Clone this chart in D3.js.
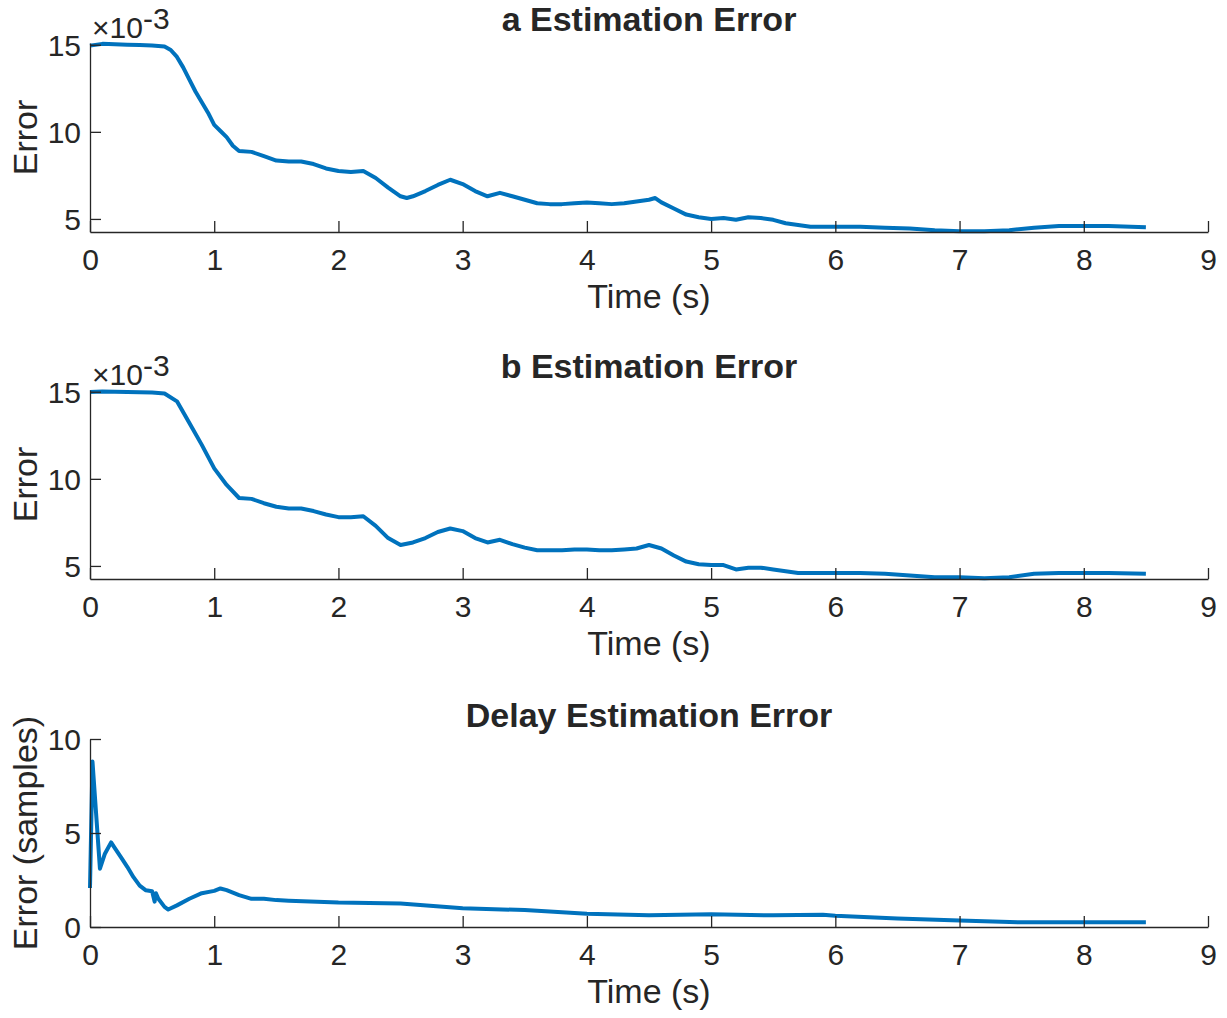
<!DOCTYPE html>
<html>
<head>
<meta charset="utf-8">
<script src="https://cdn.jsdelivr.net/npm/d3@7"></script>
<style>
  body { margin: 0; background: #fff; }
  text { font-family: "Liberation Sans", Arial, sans-serif; fill: #262626; }
</style>
</head>
<body>
<svg id="chart"></svg>
<script>
// a estimation error (x1e-3)
const timeA = [0, 0.1, 0.2, 0.3, 0.4, 0.5, 0.6, 0.65, 0.7, 0.75, 0.8, 0.85, 0.9, 0.95, 1.0, 1.05, 1.1, 1.15, 1.2,
  1.3, 1.4, 1.5, 1.6, 1.7, 1.8, 1.9, 2.0, 2.1, 2.2, 2.3, 2.4, 2.5, 2.55, 2.6, 2.7, 2.8, 2.9, 3.0, 3.1, 3.2, 3.3,
  3.4, 3.5, 3.6, 3.7, 3.8, 3.9, 4.0, 4.1, 4.2, 4.3, 4.4, 4.5, 4.55, 4.6, 4.7, 4.8, 4.9, 5.0, 5.1, 5.2, 5.3, 5.4,
  5.5, 5.6, 5.7, 5.8, 5.9, 6.0, 6.2, 6.4, 6.6, 6.8, 7.0, 7.2, 7.4, 7.6, 7.8, 8.0, 8.2, 8.5];
const errA = [14.95, 15.05, 15.03, 15.0, 14.98, 14.96, 14.9, 14.7, 14.3, 13.7, 13.0, 12.3, 11.7, 11.1, 10.4, 10.05, 9.7, 9.2, 8.9,
  8.85, 8.6, 8.35, 8.3, 8.3, 8.15, 7.9, 7.75, 7.7, 7.75, 7.35, 6.8, 6.3, 6.2, 6.3, 6.6, 6.95, 7.25, 7.0, 6.6, 6.3, 6.5,
  6.3, 6.1, 5.9, 5.85, 5.85, 5.9, 5.95, 5.9, 5.85, 5.9, 6.0, 6.1, 6.2, 5.95, 5.6, 5.25, 5.1, 5.0, 5.05, 4.95, 5.1, 5.05,
  4.95, 4.75, 4.65, 4.55, 4.55, 4.55, 4.55, 4.5, 4.45, 4.35, 4.3, 4.3, 4.35, 4.5, 4.6, 4.6, 4.6, 4.52];

// b estimation error (x1e-3)
const timeB = [0, 0.1, 0.2, 0.3, 0.4, 0.5, 0.6, 0.7, 0.8, 0.9, 1.0, 1.1, 1.2, 1.3, 1.4, 1.5, 1.6, 1.7, 1.8, 1.9, 2.0,
  2.1, 2.2, 2.3, 2.4, 2.5, 2.6, 2.7, 2.8, 2.9, 3.0, 3.1, 3.2, 3.3, 3.4, 3.5, 3.6, 3.7, 3.8, 3.9, 4.0, 4.1, 4.2, 4.3,
  4.4, 4.5, 4.6, 4.7, 4.8, 4.9, 5.0, 5.1, 5.2, 5.3, 5.4, 5.5, 5.6, 5.7, 5.8, 6.0, 6.2, 6.4, 6.6, 6.8, 7.0, 7.2, 7.4,
  7.6, 7.8, 8.0, 8.2, 8.5];
const errB = [14.98, 15.02, 15.0, 14.98, 14.97, 14.95, 14.9, 14.45, 13.2, 11.95, 10.6, 9.65, 8.9, 8.85, 8.6, 8.4, 8.3, 8.3, 8.15, 7.95, 7.8,
  7.8, 7.85, 7.3, 6.6, 6.2, 6.35, 6.6, 6.95, 7.15, 7.0, 6.6, 6.35, 6.5, 6.25, 6.05, 5.9, 5.9, 5.9, 5.95, 5.95, 5.9, 5.9, 5.95,
  6.0, 6.2, 6.0, 5.6, 5.25, 5.1, 5.05, 5.05, 4.8, 4.9, 4.9, 4.8, 4.7, 4.6, 4.6, 4.6, 4.6, 4.55, 4.45, 4.35, 4.35, 4.3, 4.35,
  4.55, 4.6, 4.6, 4.6, 4.55];

// delay estimation error (samples)
const timeD = [0, 0.02, 0.08, 0.12, 0.17, 0.2, 0.25, 0.3, 0.35, 0.4, 0.45, 0.5, 0.52, 0.53, 0.55, 0.6, 0.63, 0.7, 0.8, 0.9,
  1.0, 1.05, 1.1, 1.2, 1.3, 1.4, 1.5, 1.6, 2.0, 2.5, 3.0, 3.5, 4.0, 4.5, 5.0, 5.5, 5.9, 6.0, 6.5, 7.0, 7.2, 7.5, 8.0, 8.5];
const errD = [2.07, 8.8, 3.1, 3.9, 4.5, 4.2, 3.7, 3.2, 2.65, 2.2, 1.95, 1.9, 1.35, 1.8, 1.5, 1.07, 0.93, 1.15, 1.5, 1.8,
  1.92, 2.05, 1.96, 1.7, 1.5, 1.5, 1.43, 1.4, 1.3, 1.25, 1.0, 0.9, 0.7, 0.62, 0.68, 0.62, 0.65, 0.6, 0.45, 0.35, 0.3, 0.25, 0.25, 0.25];

const xTicks = [0, 1, 2, 3, 4, 5, 6, 7, 8, 9];
const yTicksAB = [5, 10, 15];
const yTicksD = [0, 5, 10];
const titles = ['a Estimation Error', 'b Estimation Error', 'Delay Estimation Error'];
const yLabels = ['Error', 'Error', 'Error (samples)'];

const W = 1227, H = 1018;
const svg = d3.select('#chart').attr('width', W).attr('height', H);
svg.append('rect').attr('width', W).attr('height', H).attr('fill', '#fff');

const axisColor = '#262626';
const lineColor = '#0072BD';
const tickFont = '30px';
const labelFont = '34px';

function drawPanel(top, bottom, domainY, ticksY, times, values, title, yLabel, exponent) {
    const x = d3.scaleLinear().domain([0, 9]).range([90, 1208]);
    const y = d3.scaleLinear().domain(domainY).range([bottom, top]);
    const g = svg.append('g');

    // data line
    const line = d3.line().x((d, i) => x(times[i])).y(d => y(d));
    g.append('path')
        .datum(values)
        .attr('d', line)
        .attr('fill', 'none')
        .attr('stroke', lineColor)
        .attr('stroke-width', 4)
        .attr('stroke-linejoin', 'round');

    // x axis
    const xAxis = d3.axisBottom(x).tickValues(xTicks).tickSizeInner(-11).tickSizeOuter(0).tickPadding(17)
        .tickFormat(d3.format('d'));
    const gx = g.append('g').attr('transform', `translate(0,${bottom})`).call(xAxis);
    // y axis
    const yAxis = d3.axisLeft(y).tickValues(ticksY).tickSizeInner(-11).tickSizeOuter(0).tickPadding(9)
        .tickFormat(d3.format('d'));
    const gy = g.append('g').attr('transform', 'translate(90,0)').call(yAxis);

    [gx, gy].forEach(a => {
        a.select('.domain').attr('stroke', axisColor).attr('stroke-width', 1.3);
        a.selectAll('.tick line').attr('stroke', axisColor).attr('stroke-width', 1.3);
        a.selectAll('.tick text').attr('fill', axisColor)
            .style('font-family', '"Liberation Sans", Arial, sans-serif').style('font-size', tickFont);
    });
    gx.selectAll('.tick text').attr('dy', '0.71em');
    gy.selectAll('.tick text').attr('dy', '0.36em');

    // title
    g.append('text')
        .attr('x', 649).attr('y', top - 12)
        .attr('text-anchor', 'middle')
        .style('font-size', labelFont).style('font-weight', 'bold')
        .text(title);

    // x label
    g.append('text')
        .attr('x', 649).attr('y', bottom + 76)
        .attr('text-anchor', 'middle')
        .style('font-size', labelFont)
        .text('Time (s)');

    // y label
    g.append('text')
        .attr('transform', `translate(37,${(top + bottom) / 2}) rotate(-90)`)
        .attr('text-anchor', 'middle')
        .style('font-size', labelFont)
        .text(yLabel);

    if (exponent) {
        const t = g.append('text').attr('x', 92).attr('y', top - 5).style('font-size', tickFont);
        t.append('tspan').text('\u00d710');
        t.append('tspan').attr('dy', -9).text('-3');
    }
}

drawPanel(43, 232, [4.25, 15.1], yTicksAB, timeA, errA, titles[0], yLabels[0], true);
drawPanel(390, 579, [4.25, 15.1], yTicksAB, timeB, errB, titles[1], yLabels[1], true);
drawPanel(739, 927, [0, 10], yTicksD, timeD, errD, titles[2], yLabels[2], false);
</script>
</body>
</html>
